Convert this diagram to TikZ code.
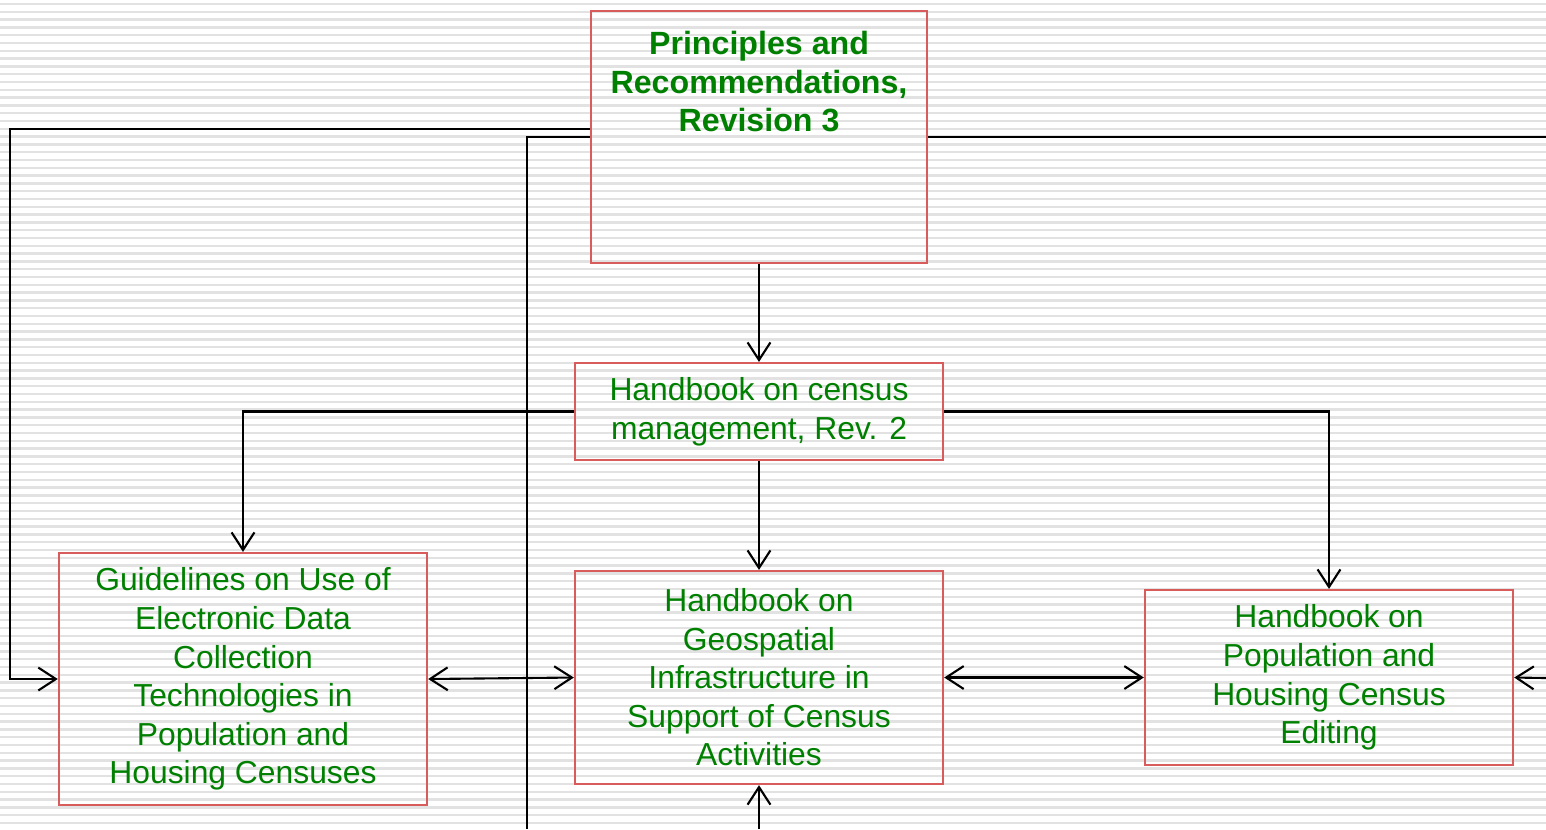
\documentclass[tikz,border=0pt]{standalone}
\usepackage{fontspec}
\setmainfont{Liberation Sans}
\usepackage{xcolor}
\usepackage{tikz}
\usetikzlibrary{arrows.meta, positioning}
\definecolor{docgreen}{RGB}{0,128,0}
\definecolor{boxred}{RGB}{217,92,92}
\definecolor{stripe}{RGB}{226,226,226}
\tikzstyle{doc} = [draw=boxred, line width=0.6pt, text=docgreen, align=center, font=\fontsize{9.05}{10.95}\selectfont, inner sep=0pt]
\tikzstyle{arrow} = [line width=0.6pt, -{Straight Barb[length=5pt,width=6.5pt]}]
\tikzstyle{twoway} = [line width=0.6pt, {Straight Barb[length=5pt,width=6.5pt]}-{Straight Barb[length=5pt,width=6.5pt]}]
\tikzstyle{wire} = [line width=0.6pt]

\begin{document}
\begin{tikzpicture}[x=0.01cm, y=-0.01cm]

% Background
\useasboundingbox (0,0) rectangle (1546,829);
\fill[white] (0,0) rectangle (1546,829);
\foreach \s in {0,...,106}
    \fill[stripe] (0,{4+\s*7.8-1.2}) rectangle (1546,{4+\s*7.8+1.2});

% Nodes
\node (prin) [doc, minimum width=3.36cm, minimum height=2.52cm,
    label={[anchor=north, text=docgreen, align=center, yshift=-0.09cm,
    font=\fontsize{9.15}{10.95}\selectfont\bfseries]north:{Principles and\\Recommendations,\\Revision 3}}] at (759,137) {};
\node (mgmt) [doc, minimum width=3.68cm, minimum height=0.97cm] at (759,411.5) {Handbook on census\\management, Rev. 2};
\node (guide) [doc, minimum width=3.68cm, minimum height=2.52cm] at (243,679) {Guidelines on Use of\\Electronic Data\\Collection\\Technologies in\\Population and\\Housing Censuses};
\node (geo) [doc, minimum width=3.68cm, minimum height=2.13cm] at (759,677.5) {Handbook on\\Geospatial\\Infrastructure in\\Support of Census\\Activities};
\node (edit) [doc, minimum width=3.68cm, minimum height=1.75cm] at (1329,677.5) {Handbook on\\Population and\\Housing Census\\Editing};

% Free ends
\coordinate (downA) at (527,829);
\coordinate (downB) at (759,829);
\coordinate (rightA) at (1546,137);
\coordinate (rightB) at (1546,678);

% Arrows
\draw [arrow] (prin.south) -- (mgmt.north);
\draw [arrow] (mgmt.west) -| (guide.north);
\draw [arrow] (mgmt.east) -| (edit.north);
\draw [arrow] (mgmt.south) -- (geo.north);
\draw [arrow] ([yshift=0.08cm]prin.west) -| ([xshift=-0.48cm]guide.west) -- (guide.west);
\draw [wire] (prin.west) -| (downA);
\draw [wire] (prin.east) -- (rightA);
\draw [twoway] (guide.east) -- (geo.west);
\draw [twoway] (geo.east) -- (edit.west);
\draw [arrow] (rightB) -- (edit.east);
\draw [arrow] (downB) -- (geo.south);

\end{tikzpicture}
\end{document}
